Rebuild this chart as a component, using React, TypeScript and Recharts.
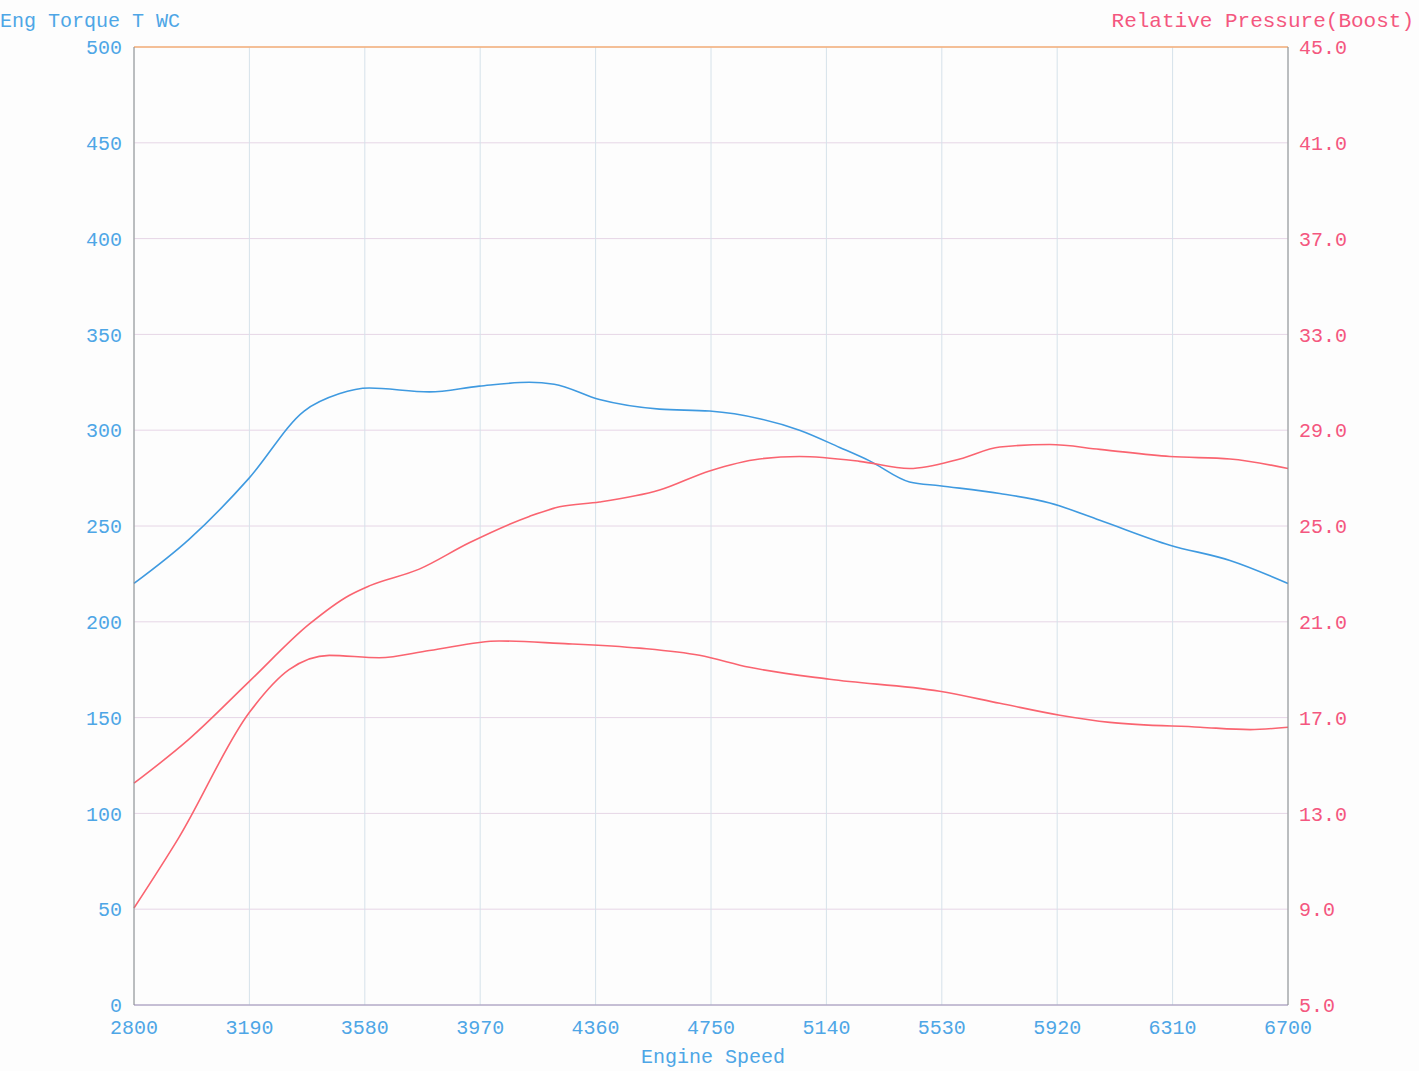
import React from 'react';
import { LineChart, Line, XAxis, YAxis, CartesianGrid, ReferenceLine } from 'recharts';

const rpmTicks = [2800, 3190, 3580, 3970, 4360, 4750, 5140, 5530, 5920, 6310, 6700];
const torqueTicks = [0, 50, 100, 150, 200, 250, 300, 350, 400, 450, 500];
const boostTicks = [5, 9, 13, 17, 21, 25, 29, 33, 37, 41, 45];

const torqueRpm = [2800, 2986, 3189, 3375, 3493, 3595, 3798, 3967, 4136, 4220, 4373, 4576, 4745, 4914, 5049, 5185, 5286, 5421, 5523, 5726, 5895, 6064, 6301, 6504, 6700];
const torqueVal = [220, 243, 275, 310, 319, 322, 320, 323, 325, 324, 316, 311, 310, 306, 300, 291, 284, 273, 271, 267, 262, 253, 240, 232, 220];

const boostARpm = [2800, 2986, 3189, 3392, 3527, 3595, 3764, 3933, 4136, 4238, 4373, 4576, 4745, 4914, 5049, 5252, 5421, 5591, 5726, 5895, 6064, 6301, 6504, 6700];
const boostAVal = [14.26, 16.1, 18.5, 20.9, 22.1, 22.5, 23.2, 24.3, 25.4, 25.8, 26.0, 26.5, 27.3, 27.8, 27.9, 27.7, 27.4, 27.8, 28.3, 28.4, 28.2, 27.9, 27.8, 27.4];

const boostBRpm = [2800, 2952, 3189, 3324, 3460, 3629, 3798, 4034, 4238, 4508, 4711, 4880, 5151, 5523, 5726, 5929, 6098, 6403, 6572, 6700];
const boostBVal = [9.05, 12.0, 17.2, 19.0, 19.6, 19.5, 19.8, 20.2, 20.1, 19.9, 19.6, 19.1, 18.6, 18.1, 17.6, 17.1, 16.8, 16.6, 16.5, 16.6];

const torqueData = torqueRpm.map((r, i) => ({ rpm: r, torque: torqueVal[i] }));
const boostAData = boostARpm.map((r, i) => ({ rpm: r, boost: boostAVal[i] }));
const boostBData = boostBRpm.map((r, i) => ({ rpm: r, boost2: boostBVal[i] }));

const FONT = '"Liberation Mono", "DejaVu Sans Mono", monospace';
const BLUE_TEXT = '#4ea6e6';
const PINK_TEXT = '#f4577f';

export default function App() {
  return (
    <div style={{ position: 'absolute', left: 0, top: 0, width: 1419, height: 1071, background: '#fdfdfd' }}>
      <LineChart width={1419} height={1071} margin={{ top: 47, right: 0, bottom: 0, left: 0 }}>
        <CartesianGrid yAxisId="left" horizontal={true} vertical={false} stroke="#e6d6e6" strokeWidth={1} />
        <CartesianGrid yAxisId="left" horizontal={false} vertical={true} stroke="#d6e2ea" strokeWidth={1} />
        <XAxis
          type="number"
          dataKey="rpm"
          domain={[2800, 6700]}
          ticks={rpmTicks}
          allowDuplicatedCategory={false}
          height={66}
          tickLine={false}
          axisLine={{ stroke: '#9a94b8' }}
          tick={{ fill: BLUE_TEXT, fontSize: 20, fontFamily: FONT }}
          tickMargin={9}
        />
        <YAxis
          yAxisId="left"
          orientation="left"
          domain={[0, 500]}
          ticks={torqueTicks}
          width={134}
          tickLine={false}
          axisLine={{ stroke: '#8c8c8c' }}
          tick={{ fill: BLUE_TEXT, fontSize: 20, fontFamily: FONT }}
          tickMargin={6}
        />
        <YAxis
          yAxisId="right"
          orientation="right"
          domain={[5, 45]}
          ticks={boostTicks}
          width={131}
          tickLine={false}
          axisLine={{ stroke: '#8c8c8c' }}
          tickFormatter={(v: number) => v.toFixed(1)}
          tick={{ fill: PINK_TEXT, fontSize: 20, fontFamily: FONT }}
          tickMargin={5}
        />
        <ReferenceLine yAxisId="left" y={500} stroke="#f4b078" strokeWidth={1.5} />
        <Line
          yAxisId="left"
          data={torqueData}
          dataKey="torque"
          type="monotone"
          stroke="#3f9ae0"
          strokeWidth={1.6}
          dot={false}
          isAnimationActive={false}
        />
        <Line
          yAxisId="right"
          data={boostAData}
          dataKey="boost"
          type="monotone"
          stroke="#fa6470"
          strokeWidth={1.6}
          dot={false}
          isAnimationActive={false}
        />
        <Line
          yAxisId="right"
          data={boostBData}
          dataKey="boost2"
          type="monotone"
          stroke="#fa6470"
          strokeWidth={1.6}
          dot={false}
          isAnimationActive={false}
        />
        <text x={0} y={27} fill={BLUE_TEXT} fontSize={20} fontFamily={FONT}>Eng Torque T WC</text>
        <text x={1414} y={27} fill={PINK_TEXT} fontSize={21} fontFamily={FONT} textAnchor="end">Relative Pressure(Boost)</text>
        <text x={713} y={1063} fill={BLUE_TEXT} fontSize={20} fontFamily={FONT} textAnchor="middle">Engine Speed</text>
      </LineChart>
    </div>
  );
}
